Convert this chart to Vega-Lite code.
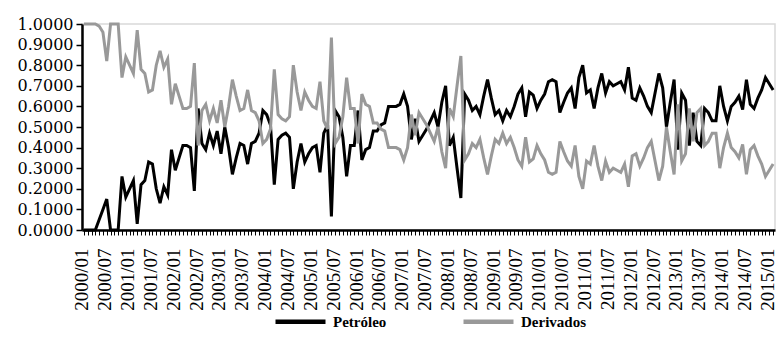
{
  "$schema": "https://vega.github.io/schema/vega-lite/v6.json",
  "width": 693,
  "height": 206,
  "autosize": {"type": "none"},
  "padding": {"left": 82, "top": 24, "right": 1, "bottom": 109},
  "background": "white",
  "config": {"view": {"stroke": "#d9d9d9", "strokeWidth": 1.5}},
  "data": {"values": [
    {"m":"2000/01","Petróleo":0,"Derivados":1},
    {"m":"2000/02","Petróleo":0,"Derivados":1},
    {"m":"2000/03","Petróleo":0,"Derivados":1},
    {"m":"2000/04","Petróleo":0,"Derivados":1},
    {"m":"2000/05","Petróleo":0.05,"Derivados":0.99},
    {"m":"2000/06","Petróleo":0.10,"Derivados":0.96},
    {"m":"2000/07","Petróleo":0.15,"Derivados":0.82},
    {"m":"2000/08","Petróleo":0,"Derivados":1},
    {"m":"2000/09","Petróleo":0,"Derivados":1},
    {"m":"2000/10","Petróleo":0,"Derivados":1},
    {"m":"2000/11","Petróleo":0.26,"Derivados":0.74},
    {"m":"2000/12","Petróleo":0.16,"Derivados":0.84},
    {"m":"2001/01","Petróleo":0.20,"Derivados":0.80},
    {"m":"2001/02","Petróleo":0.24,"Derivados":0.76},
    {"m":"2001/03","Petróleo":0.03,"Derivados":0.97},
    {"m":"2001/04","Petróleo":0.22,"Derivados":0.78},
    {"m":"2001/05","Petróleo":0.24,"Derivados":0.76},
    {"m":"2001/06","Petróleo":0.33,"Derivados":0.67},
    {"m":"2001/07","Petróleo":0.32,"Derivados":0.68},
    {"m":"2001/08","Petróleo":0.20,"Derivados":0.80},
    {"m":"2001/09","Petróleo":0.13,"Derivados":0.87},
    {"m":"2001/10","Petróleo":0.21,"Derivados":0.79},
    {"m":"2001/11","Petróleo":0.17,"Derivados":0.83},
    {"m":"2001/12","Petróleo":0.39,"Derivados":0.61},
    {"m":"2002/01","Petróleo":0.29,"Derivados":0.71},
    {"m":"2002/02","Petróleo":0.35,"Derivados":0.65},
    {"m":"2002/03","Petróleo":0.41,"Derivados":0.59},
    {"m":"2002/04","Petróleo":0.41,"Derivados":0.59},
    {"m":"2002/05","Petróleo":0.40,"Derivados":0.60},
    {"m":"2002/06","Petróleo":0.19,"Derivados":0.81},
    {"m":"2002/07","Petróleo":0.59,"Derivados":0.41},
    {"m":"2002/08","Petróleo":0.42,"Derivados":0.58},
    {"m":"2002/09","Petróleo":0.39,"Derivados":0.61},
    {"m":"2002/10","Petróleo":0.47,"Derivados":0.53},
    {"m":"2002/11","Petróleo":0.41,"Derivados":0.59},
    {"m":"2002/12","Petróleo":0.48,"Derivados":0.52},
    {"m":"2003/01","Petróleo":0.37,"Derivados":0.63},
    {"m":"2003/02","Petróleo":0.50,"Derivados":0.50},
    {"m":"2003/03","Petróleo":0.40,"Derivados":0.60},
    {"m":"2003/04","Petróleo":0.27,"Derivados":0.73},
    {"m":"2003/05","Petróleo":0.35,"Derivados":0.65},
    {"m":"2003/06","Petróleo":0.42,"Derivados":0.58},
    {"m":"2003/07","Petróleo":0.41,"Derivados":0.59},
    {"m":"2003/08","Petróleo":0.32,"Derivados":0.68},
    {"m":"2003/09","Petróleo":0.42,"Derivados":0.58},
    {"m":"2003/10","Petróleo":0.43,"Derivados":0.57},
    {"m":"2003/11","Petróleo":0.47,"Derivados":0.53},
    {"m":"2003/12","Petróleo":0.58,"Derivados":0.42},
    {"m":"2004/01","Petróleo":0.56,"Derivados":0.44},
    {"m":"2004/02","Petróleo":0.51,"Derivados":0.49},
    {"m":"2004/03","Petróleo":0.22,"Derivados":0.78},
    {"m":"2004/04","Petróleo":0.44,"Derivados":0.56},
    {"m":"2004/05","Petróleo":0.46,"Derivados":0.54},
    {"m":"2004/06","Petróleo":0.47,"Derivados":0.53},
    {"m":"2004/07","Petróleo":0.45,"Derivados":0.55},
    {"m":"2004/08","Petróleo":0.20,"Derivados":0.80},
    {"m":"2004/09","Petróleo":0.33,"Derivados":0.67},
    {"m":"2004/10","Petróleo":0.42,"Derivados":0.58},
    {"m":"2004/11","Petróleo":0.33,"Derivados":0.67},
    {"m":"2004/12","Petróleo":0.37,"Derivados":0.63},
    {"m":"2005/01","Petróleo":0.40,"Derivados":0.60},
    {"m":"2005/02","Petróleo":0.41,"Derivados":0.59},
    {"m":"2005/03","Petróleo":0.28,"Derivados":0.72},
    {"m":"2005/04","Petróleo":0.47,"Derivados":0.53},
    {"m":"2005/05","Petróleo":0.51,"Derivados":0.49},
    {"m":"2005/06","Petróleo":0.066,"Derivados":0.934},
    {"m":"2005/07","Petróleo":0.58,"Derivados":0.42},
    {"m":"2005/08","Petróleo":0.55,"Derivados":0.45},
    {"m":"2005/09","Petróleo":0.45,"Derivados":0.55},
    {"m":"2005/10","Petróleo":0.26,"Derivados":0.74},
    {"m":"2005/11","Petróleo":0.41,"Derivados":0.59},
    {"m":"2005/12","Petróleo":0.41,"Derivados":0.59},
    {"m":"2006/01","Petróleo":0.58,"Derivados":0.42},
    {"m":"2006/02","Petróleo":0.34,"Derivados":0.66},
    {"m":"2006/03","Petróleo":0.39,"Derivados":0.61},
    {"m":"2006/04","Petróleo":0.40,"Derivados":0.60},
    {"m":"2006/05","Petróleo":0.48,"Derivados":0.52},
    {"m":"2006/06","Petróleo":0.48,"Derivados":0.52},
    {"m":"2006/07","Petróleo":0.51,"Derivados":0.49},
    {"m":"2006/08","Petróleo":0.52,"Derivados":0.48},
    {"m":"2006/09","Petróleo":0.60,"Derivados":0.40},
    {"m":"2006/10","Petróleo":0.60,"Derivados":0.40},
    {"m":"2006/11","Petróleo":0.60,"Derivados":0.40},
    {"m":"2006/12","Petróleo":0.61,"Derivados":0.39},
    {"m":"2007/01","Petróleo":0.66,"Derivados":0.34},
    {"m":"2007/02","Petróleo":0.60,"Derivados":0.40},
    {"m":"2007/03","Petróleo":0.44,"Derivados":0.56},
    {"m":"2007/04","Petróleo":0.54,"Derivados":0.46},
    {"m":"2007/05","Petróleo":0.43,"Derivados":0.57},
    {"m":"2007/06","Petróleo":0.46,"Derivados":0.54},
    {"m":"2007/07","Petróleo":0.49,"Derivados":0.51},
    {"m":"2007/08","Petróleo":0.53,"Derivados":0.47},
    {"m":"2007/09","Petróleo":0.57,"Derivados":0.43},
    {"m":"2007/10","Petróleo":0.50,"Derivados":0.50},
    {"m":"2007/11","Petróleo":0.62,"Derivados":0.38},
    {"m":"2007/12","Petróleo":0.70,"Derivados":0.30},
    {"m":"2008/01","Petróleo":0.41,"Derivados":0.59},
    {"m":"2008/02","Petróleo":0.45,"Derivados":0.55},
    {"m":"2008/03","Petróleo":0.30,"Derivados":0.70},
    {"m":"2008/04","Petróleo":0.155,"Derivados":0.845},
    {"m":"2008/05","Petróleo":0.66,"Derivados":0.34},
    {"m":"2008/06","Petróleo":0.63,"Derivados":0.37},
    {"m":"2008/07","Petróleo":0.58,"Derivados":0.42},
    {"m":"2008/08","Petróleo":0.60,"Derivados":0.40},
    {"m":"2008/09","Petróleo":0.56,"Derivados":0.44},
    {"m":"2008/10","Petróleo":0.65,"Derivados":0.35},
    {"m":"2008/11","Petróleo":0.73,"Derivados":0.27},
    {"m":"2008/12","Petróleo":0.64,"Derivados":0.36},
    {"m":"2009/01","Petróleo":0.56,"Derivados":0.44},
    {"m":"2009/02","Petróleo":0.58,"Derivados":0.42},
    {"m":"2009/03","Petróleo":0.53,"Derivados":0.47},
    {"m":"2009/04","Petróleo":0.58,"Derivados":0.42},
    {"m":"2009/05","Petróleo":0.55,"Derivados":0.45},
    {"m":"2009/06","Petróleo":0.60,"Derivados":0.40},
    {"m":"2009/07","Petróleo":0.66,"Derivados":0.34},
    {"m":"2009/08","Petróleo":0.69,"Derivados":0.31},
    {"m":"2009/09","Petróleo":0.55,"Derivados":0.45},
    {"m":"2009/10","Petróleo":0.67,"Derivados":0.33},
    {"m":"2009/11","Petróleo":0.655,"Derivados":0.345},
    {"m":"2009/12","Petróleo":0.59,"Derivados":0.41},
    {"m":"2010/01","Petróleo":0.63,"Derivados":0.37},
    {"m":"2010/02","Petróleo":0.66,"Derivados":0.34},
    {"m":"2010/03","Petróleo":0.72,"Derivados":0.28},
    {"m":"2010/04","Petróleo":0.73,"Derivados":0.27},
    {"m":"2010/05","Petróleo":0.72,"Derivados":0.28},
    {"m":"2010/06","Petróleo":0.57,"Derivados":0.43},
    {"m":"2010/07","Petróleo":0.62,"Derivados":0.38},
    {"m":"2010/08","Petróleo":0.665,"Derivados":0.335},
    {"m":"2010/09","Petróleo":0.69,"Derivados":0.31},
    {"m":"2010/10","Petróleo":0.59,"Derivados":0.41},
    {"m":"2010/11","Petróleo":0.74,"Derivados":0.26},
    {"m":"2010/12","Petróleo":0.80,"Derivados":0.20},
    {"m":"2011/01","Petróleo":0.665,"Derivados":0.335},
    {"m":"2011/02","Petróleo":0.68,"Derivados":0.32},
    {"m":"2011/03","Petróleo":0.59,"Derivados":0.41},
    {"m":"2011/04","Petróleo":0.69,"Derivados":0.31},
    {"m":"2011/05","Petróleo":0.76,"Derivados":0.24},
    {"m":"2011/06","Petróleo":0.665,"Derivados":0.335},
    {"m":"2011/07","Petróleo":0.72,"Derivados":0.28},
    {"m":"2011/08","Petróleo":0.70,"Derivados":0.30},
    {"m":"2011/09","Petróleo":0.71,"Derivados":0.29},
    {"m":"2011/10","Petróleo":0.72,"Derivados":0.28},
    {"m":"2011/11","Petróleo":0.68,"Derivados":0.32},
    {"m":"2011/12","Petróleo":0.79,"Derivados":0.21},
    {"m":"2012/01","Petróleo":0.64,"Derivados":0.36},
    {"m":"2012/02","Petróleo":0.63,"Derivados":0.37},
    {"m":"2012/03","Petróleo":0.69,"Derivados":0.31},
    {"m":"2012/04","Petróleo":0.65,"Derivados":0.35},
    {"m":"2012/05","Petróleo":0.60,"Derivados":0.40},
    {"m":"2012/06","Petróleo":0.57,"Derivados":0.43},
    {"m":"2012/07","Petróleo":0.665,"Derivados":0.335},
    {"m":"2012/08","Petróleo":0.76,"Derivados":0.24},
    {"m":"2012/09","Petróleo":0.69,"Derivados":0.31},
    {"m":"2012/10","Petróleo":0.50,"Derivados":0.50},
    {"m":"2012/11","Petróleo":0.62,"Derivados":0.38},
    {"m":"2012/12","Petróleo":0.73,"Derivados":0.27},
    {"m":"2013/01","Petróleo":0.39,"Derivados":0.61},
    {"m":"2013/02","Petróleo":0.665,"Derivados":0.335},
    {"m":"2013/03","Petróleo":0.63,"Derivados":0.37},
    {"m":"2013/04","Petróleo":0.41,"Derivados":0.59},
    {"m":"2013/05","Petróleo":0.57,"Derivados":0.43},
    {"m":"2013/06","Petróleo":0.43,"Derivados":0.57},
    {"m":"2013/07","Petróleo":0.41,"Derivados":0.59},
    {"m":"2013/08","Petróleo":0.59,"Derivados":0.41},
    {"m":"2013/09","Petróleo":0.57,"Derivados":0.43},
    {"m":"2013/10","Petróleo":0.53,"Derivados":0.47},
    {"m":"2013/11","Petróleo":0.53,"Derivados":0.47},
    {"m":"2013/12","Petróleo":0.70,"Derivados":0.30},
    {"m":"2014/01","Petróleo":0.60,"Derivados":0.40},
    {"m":"2014/02","Petróleo":0.53,"Derivados":0.47},
    {"m":"2014/03","Petróleo":0.60,"Derivados":0.40},
    {"m":"2014/04","Petróleo":0.62,"Derivados":0.38},
    {"m":"2014/05","Petróleo":0.65,"Derivados":0.35},
    {"m":"2014/06","Petróleo":0.585,"Derivados":0.415},
    {"m":"2014/07","Petróleo":0.73,"Derivados":0.27},
    {"m":"2014/08","Petróleo":0.61,"Derivados":0.39},
    {"m":"2014/09","Petróleo":0.59,"Derivados":0.41},
    {"m":"2014/10","Petróleo":0.64,"Derivados":0.36},
    {"m":"2014/11","Petróleo":0.68,"Derivados":0.32},
    {"m":"2014/12","Petróleo":0.74,"Derivados":0.26},
    {"m":"2015/01","Petróleo":0.71,"Derivados":0.29},
    {"m":"2015/02","Petróleo":0.68,"Derivados":0.32}
  ]},
  "transform": [{"fold": ["Petróleo", "Derivados"], "as": ["serie", "valor"]}],
  "mark": {"type": "line", "strokeWidth": 3},
  "encoding": {
    "x": {
      "field": "m", "type": "ordinal",
      "scale": {"type": "point", "padding": 0.5},
      "axis": {
        "title": null, "labelAngle": -90,
        "labelFont": "Liberation Sans Narrow", "labelFontSize": 19, "labelColor": "#000",
        "labelPadding": 13, "labelOffset": -2, "labelOverlap": false, "labelBound": false,
        "labelExpr": "(substring(datum.value,5,7)=='01'||substring(datum.value,5,7)=='07') ? datum.value : ''",
        "domainColor": "#000", "domainWidth": 2.5,
        "tickColor": "#000", "tickSize": 5, "tickWidth": 1, "grid": false
      }
    },
    "y": {
      "field": "valor", "type": "quantitative",
      "scale": {"domain": [0, 1], "nice": false, "zero": true},
      "axis": {
        "title": null, "values": [0, 0.1, 0.2, 0.3, 0.4, 0.5, 0.6, 0.7, 0.8, 0.9, 1],
        "format": ".4f", "labelFont": "DejaVu Serif", "labelFontSize": 16, "labelColor": "#000",
        "labelPadding": 3, "domainColor": "#000", "domainWidth": 2.5,
        "tickColor": "#000", "tickSize": 6, "tickWidth": 1.5, "grid": false
      }
    },
    "color": {
      "field": "serie", "type": "nominal",
      "scale": {"domain": ["Petróleo", "Derivados"], "range": ["#000000", "#999999"]},
      "legend": {
        "title": null, "orient": "none", "legendX": 191, "legendY": 270, "direction": "horizontal",
        "symbolType": "stroke", "symbolSize": 2500, "symbolStrokeWidth": 4.5,
        "labelFont": "Liberation Sans Narrow", "labelFontWeight": "bold", "labelFontSize": 15,
        "labelColor": "#000", "labelOffset": 5, "columnPadding": 67
      }
    }
  }
}
